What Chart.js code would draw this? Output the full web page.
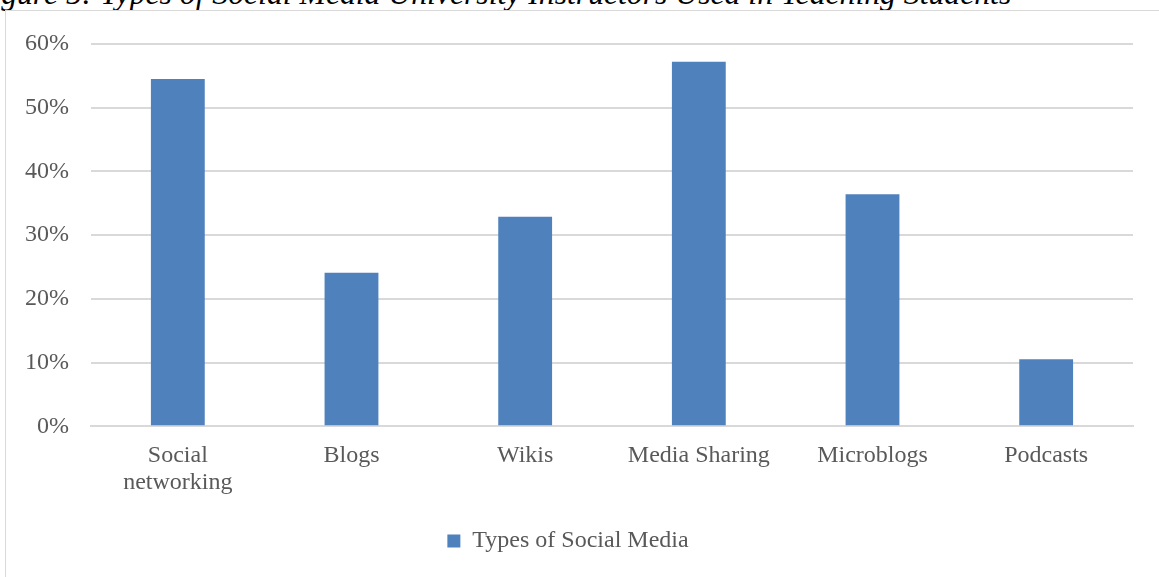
<!DOCTYPE html>
<html>
<head>
<meta charset="utf-8">
<script src="https://cdn.jsdelivr.net/npm/chart.js@4"></script>
<style>
    html, body { margin: 0; padding: 0; background: #fff; overflow: hidden; }
    #title {
        position: absolute; left: -27px; top: -22px; white-space: nowrap; line-height: 1;
        font-family: "Liberation Serif", serif; font-style: italic; font-size: 31.7px; color: #000;
    }
    #frame {
        position: absolute; left: 5px; top: 10px; width: 1300px; height: 700px;
        border: 1px solid #d9d9d9;
    }
    #wrap { position: absolute; left: 0; top: 0; width: 1159px; height: 577px; }
</style>
</head>
<body>
<div id="title">Figure 5: Types of Social Media University Instructors Used in Teaching Students</div>
<div id="frame"></div>
<div id="wrap"><canvas id="chart"></canvas></div>
<script>
    const categories = [["Social", "networking"], "Blogs", "Wikis", "Media Sharing", "Microblogs", "Podcasts"];
    const seriesName = "Types of Social Media";
    const seriesValues = [54.5, 24.1, 32.9, 57.2, 36.4, 10.5];
    const yTicks = [0, 10, 20, 30, 40, 50, 60];

    const font = { family: "'Liberation Serif', serif", size: 24, lineHeight: 1.12 };

    new Chart(document.getElementById("chart"), {
        type: "bar",
        data: {
            labels: categories,
            datasets: [{
                label: seriesName,
                data: seriesValues,
                backgroundColor: "#4f81bd",
                borderWidth: 0,
                barPercentage: 0.31,
                categoryPercentage: 1
            }]
        },
        options: {
            responsive: true,
            maintainAspectRatio: false,
            animation: false,
            layout: { padding: { left: 3, right: 26, top: 44, bottom: 14 } },
            plugins: {
                legend: {
                    position: "bottom",
                    labels: { boxWidth: 13, boxHeight: 13, color: "#595959", font, padding: 17 }
                },
                tooltip: { enabled: false }
            },
            scales: {
                x: {
                    grid: { display: false, drawTicks: false },
                    border: { color: "#d9d9d9", width: 2 },
                    ticks: { color: "#595959", font, padding: 16, maxRotation: 0 }
                },
                y: {
                    min: 0,
                    max: 60,
                    afterBuildTicks: (axis) => { axis.ticks = yTicks.map((v) => ({ value: v })); },
                    grid: { color: "#d9d9d9", lineWidth: 2, drawTicks: false },
                    border: { display: false },
                    ticks: { color: "#595959", font, padding: 22, callback: (v) => v + "%" }
                }
            }
        }
    });
</script>
</body>
</html>
